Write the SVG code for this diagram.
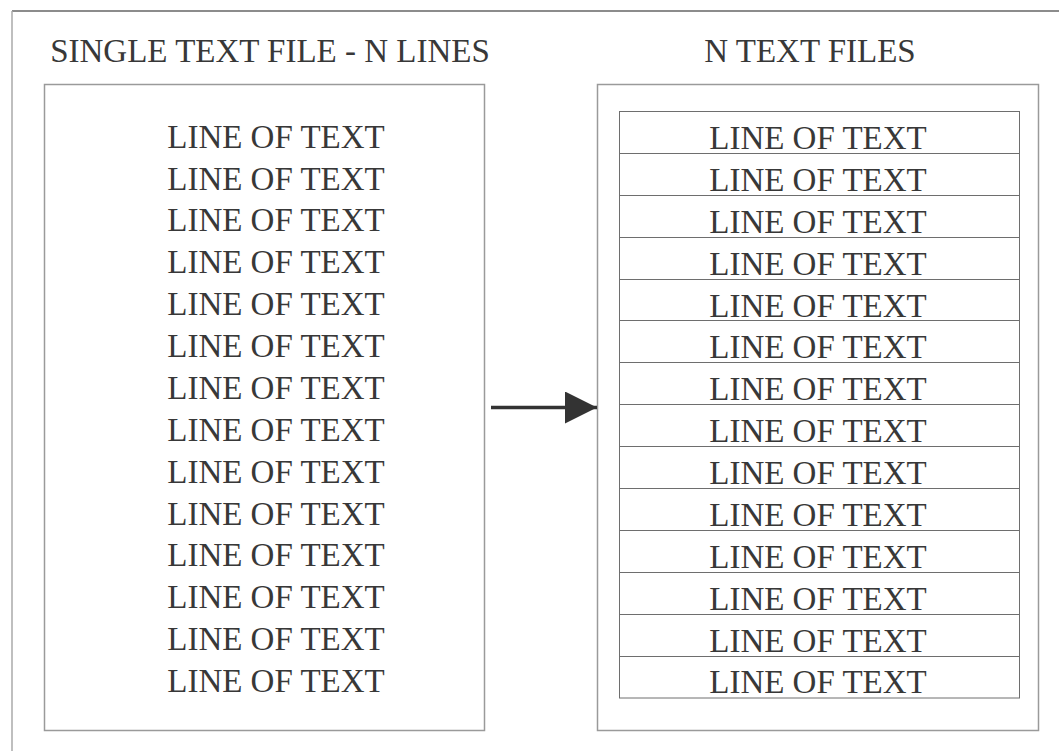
<svg xmlns="http://www.w3.org/2000/svg" width="1059" height="751" viewBox="0 0 1059 751">
<style>
text{font-family:"Liberation Serif","Times New Roman",serif;font-size:33px;fill:#383838;text-anchor:middle}
.box{fill:none;stroke:#9a9a9a;stroke-width:1.5}
.row{fill:none;stroke:#6e6e6e;stroke-width:1}
</style>
<defs>
<marker id="ah" markerWidth="32" markerHeight="32" refX="32" refY="16" orient="auto" markerUnits="userSpaceOnUse">
<path d="M0,0 L32,16 L0,32 Z" fill="#333"/>
</marker>
</defs>
<rect width="1059" height="751" fill="#fff"/>
<g id="frame">
<line x1="12" y1="11" x2="1059" y2="11" stroke="#666" stroke-width="1.5"/>
<line x1="12" y1="11" x2="12" y2="751" stroke="#aaa" stroke-width="1.5"/>
</g>
<g id="single-file">
<text x="270" y="62">SINGLE TEXT FILE - N LINES</text>
<rect class="box" x="44.5" y="84.5" width="440" height="646"/>
<text x="276" y="148">LINE OF TEXT</text>
<text x="276" y="190">LINE OF TEXT</text>
<text x="276" y="231">LINE OF TEXT</text>
<text x="276" y="273">LINE OF TEXT</text>
<text x="276" y="315">LINE OF TEXT</text>
<text x="276" y="357">LINE OF TEXT</text>
<text x="276" y="399">LINE OF TEXT</text>
<text x="276" y="441">LINE OF TEXT</text>
<text x="276" y="483">LINE OF TEXT</text>
<text x="276" y="525">LINE OF TEXT</text>
<text x="276" y="566">LINE OF TEXT</text>
<text x="276" y="608">LINE OF TEXT</text>
<text x="276" y="650">LINE OF TEXT</text>
<text x="276" y="692">LINE OF TEXT</text>
</g>
<g id="n-files">
<text x="810" y="62">N TEXT FILES</text>
<rect class="box" x="597.5" y="84.5" width="441" height="646"/>
<rect class="row" x="619.5" y="111.5" width="400" height="586.5"/>
<path class="row" d="M619.5,153.5H1019.5M619.5,195.5H1019.5M619.5,237.5H1019.5M619.5,279.5H1019.5M619.5,320.5H1019.5M619.5,362.5H1019.5M619.5,404.5H1019.5M619.5,446.5H1019.5M619.5,488.5H1019.5M619.5,530.5H1019.5M619.5,572.5H1019.5M619.5,614.5H1019.5M619.5,656.5H1019.5"/>
<text x="818" y="149">LINE OF TEXT</text>
<text x="818" y="191">LINE OF TEXT</text>
<text x="818" y="233">LINE OF TEXT</text>
<text x="818" y="275">LINE OF TEXT</text>
<text x="818" y="317">LINE OF TEXT</text>
<text x="818" y="358">LINE OF TEXT</text>
<text x="818" y="400">LINE OF TEXT</text>
<text x="818" y="442">LINE OF TEXT</text>
<text x="818" y="484">LINE OF TEXT</text>
<text x="818" y="526">LINE OF TEXT</text>
<text x="818" y="568">LINE OF TEXT</text>
<text x="818" y="610">LINE OF TEXT</text>
<text x="818" y="652">LINE OF TEXT</text>
<text x="818" y="693">LINE OF TEXT</text>
</g>
<g id="connectors">
<line x1="491" y1="407.5" x2="597" y2="407.5" stroke="#333" stroke-width="3.5" marker-end="url(#ah)"/>
</g>
</svg>
